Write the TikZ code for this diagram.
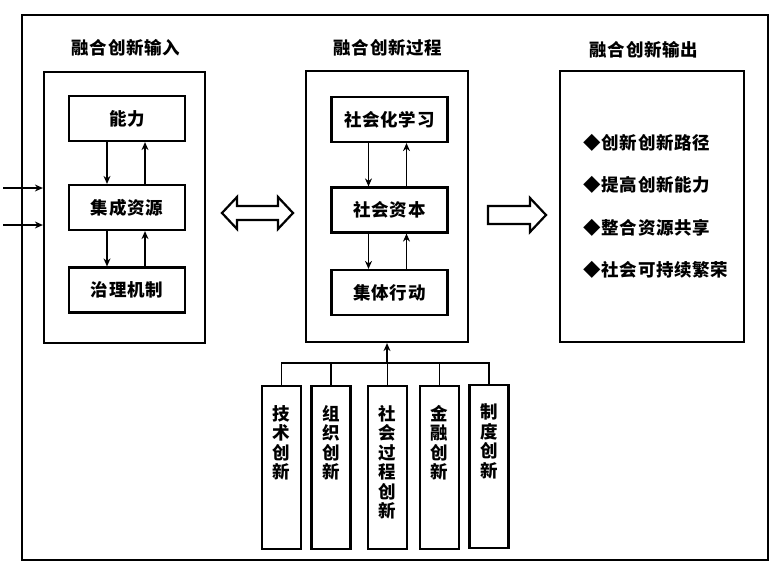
\documentclass[tikz,border=0pt]{standalone}
\usepackage{fontspec}
\setmainfont{Noto Sans CJK SC}
\usetikzlibrary{arrows.meta,calc}
\newcommand{\hfnt}{\bfseries\fontsize{17.5}{20}\selectfont\addfontfeature{LetterSpace=4}}
\begin{document}
\begin{tikzpicture}[x=1pt,y=-1pt,
  box/.style={draw,line width=2.2pt,minimum width=116pt,minimum height=45pt,inner sep=0pt,font=\hfnt},
  panel/.style={draw,line width=2.2pt,inner sep=0pt},
  title/.style={font=\hfnt},
  vbox/.style={draw,line width=2.2pt,minimum width=39pt,minimum height=163pt,inner sep=0pt},
  vtext/.style={font=\bfseries\fontsize{17.5}{19.5}\selectfont,align=center,inner sep=0pt,anchor=north},
  arr/.style={line width=1.6pt,-{Stealth[length=8pt,width=7pt]}},
  fat/.style={draw,line width=2.2pt,fill=white,line join=miter}
]
\useasboundingbox (0,0) rectangle (780,573);
\fill[white] (0,0) rectangle (780,573);
% outer frame
\node[panel,minimum width=746pt,minimum height=545pt] (frame) at (395,287.5) {};
% panels
\node[panel,minimum width=161pt,minimum height=271pt] (pin) at (124.5,207.5) {};
\node[panel,minimum width=162pt,minimum height=271pt] (pproc) at (387,206.5) {};
\node[panel,minimum width=184pt,minimum height=271pt] (pout) at (652,206.5) {};
% titles
\node[title] (tin) at (126,48) {融合创新输入};
\node[title] (tproc) at (388,48) {融合创新过程};
\node[title] (tout) at (644,50) {融合创新输出};
% left inner boxes
\node[box] (a1) at (127,118.5) {能力};
\node[box] (a2) at (127,207.5) {集成资源};
\node[box] (a3) at (127,290) {治理机制};
\draw[arr] ([xshift=-20pt]a1.south) -- ([xshift=-20pt]a2.north);
\draw[arr] ([xshift=18pt]a2.north) -- ([xshift=18pt]a1.south);
\draw[arr] ([xshift=-20pt]a2.south) -- ([xshift=-20pt]a3.north);
\draw[arr] ([xshift=18pt]a3.north) -- ([xshift=18pt]a2.south);
% middle inner boxes
\node[box] (b1) at (389.5,119.5) {社会化学习};
\node[box] (b2) at (389.5,210) {社会资本};
\node[box] (b3) at (389.5,292.5) {集体行动};
\draw[arr] ([xshift=-21pt]b1.south) -- ([xshift=-21pt]b2.north);
\draw[arr] ([xshift=17pt]b2.north) -- ([xshift=17pt]b1.south);
\draw[arr] ([xshift=-21pt]b2.south) -- ([xshift=-21pt]b3.north);
\draw[arr] ([xshift=17pt]b3.north) -- ([xshift=17pt]b2.south);
% input arrows
\coordinate (i1) at (3,188);
\coordinate (i2) at (3,225);
\draw[arr] (i1) -- (i1 -| pin.west);
\draw[arr] (i2) -- (i2 -| pin.west);
% double arrow
\draw[fat] (222,213) -- (237,197) -- (237,206) -- (278,206) -- (278,197) -- (293,213)
  -- (278,229) -- (278,220) -- (237,220) -- (237,229) -- cycle;
% single arrow
\draw[fat] (488,206) -- (530,206) -- (530,198) -- (546,215) -- (530,232) -- (530,224) -- (488,224) -- cycle;
% output bullets
\node[title,anchor=west] (o1) at (580,143) {◆创新创新路径};
\node[title,anchor=west] (o2) at (580,185) {◆提高创新能力};
\node[title,anchor=west] (o3) at (580,228) {◆整合资源共享};
\node[title,anchor=west] (o4) at (580,270) {◆社会可持续繁荣};
% bottom boxes
\node[vbox] (c1) at (281.5,467.5) {};
\node[vbox] (c2) at (331,467.5) {};
\node[vbox] (c3) at (387.5,467.5) {};
\node[vbox] (c4) at (439.5,467.5) {};
\node[vbox] (c5) at (489,466.5) {};
\node[vtext] (d1) at ([yshift=-20pt]c1.north) {技\\术\\创\\新};
\node[vtext] (d2) at ([yshift=-20pt]c2.north) {组\\织\\创\\新};
\node[vtext] (d3) at ([yshift=-20pt]c3.north) {社\\会\\过\\程\\创\\新};
\node[vtext] (d4) at ([yshift=-20pt]c4.north) {金\\融\\创\\新};
\node[vtext] (d5) at ([yshift=-20pt]c5.north) {制\\度\\创\\新};
% bus
\coordinate (bus) at (387,363);
\draw[line width=1.6pt] (c1.north) -- (c1.north |- bus) -- (c5.north |- bus) -- (c5.north);
\draw[line width=1.6pt] (c2.north) -- (c2.north |- bus);
\draw[line width=1.6pt] (c4.north) -- (c4.north |- bus);
\draw[line width=1.6pt] (c3.north) -- (c3.north |- bus);
\draw[arr,line width=2.2pt] (bus) -- (bus |- pproc.south);
\end{tikzpicture}
\end{document}
